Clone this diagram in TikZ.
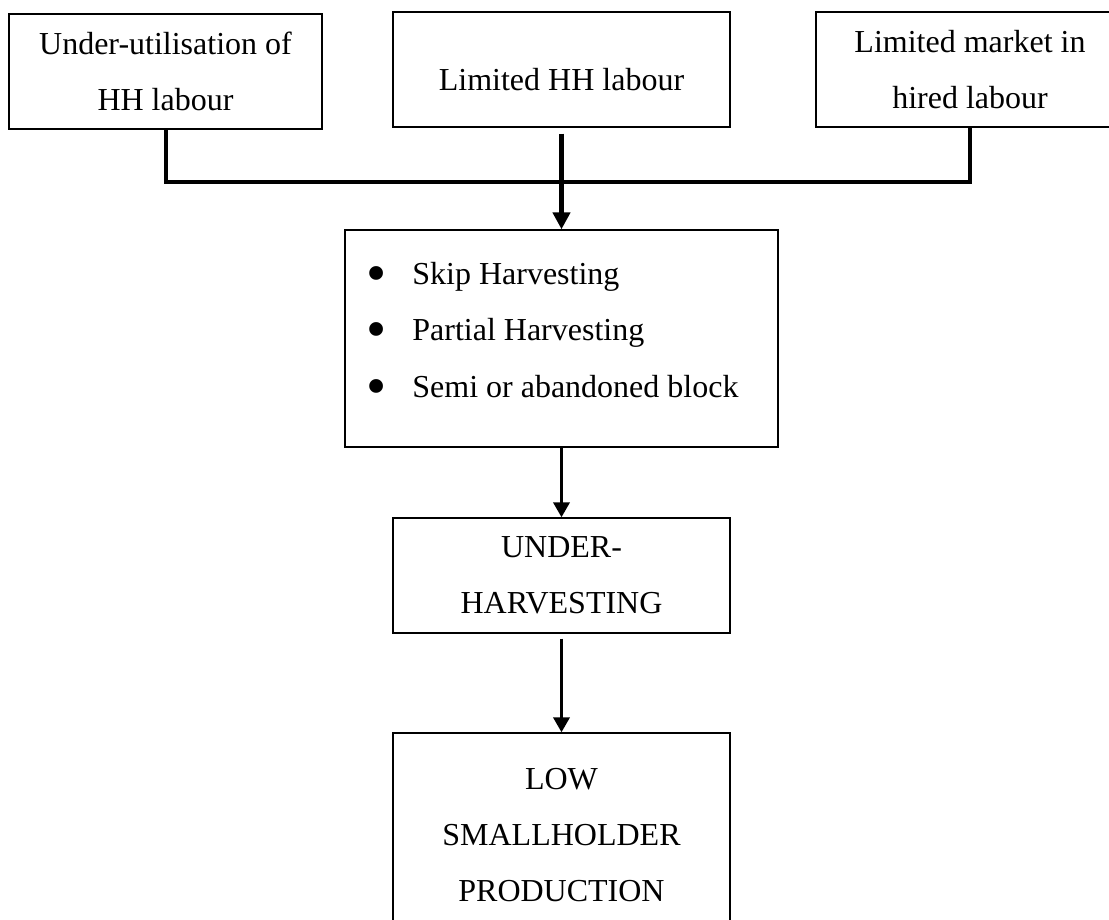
\documentclass[tikz,border=0pt]{standalone}
\usepackage{fontspec}
\setmainfont{Liberation Serif}
\usetikzlibrary{arrows.meta}
\newcommand{\itembullet}{\raisebox{-8pt}{\scalebox{1.8}{\textbullet}}}
\tikzset{
    box/.style={draw, line width=1.3pt, align=center, inner sep=0pt,
        font=\fontsize{32}{56}\selectfont},
    link/.style={line width=4pt, line cap=butt},
    bigarrow/.style={line width=5pt, -{Triangle[length=17pt,width=17pt]}},
    arrow/.style={line width=3.5pt, -{Triangle[length=15pt,width=16pt]}}
}
\begin{document}
\begin{tikzpicture}[x=1pt,y=-1pt]
        \useasboundingbox (0,0) rectangle (1109,920);
        % causes
        \node[box, minimum width=313pt, minimum height=115pt] (under) at (165.5,71.5) {Under-utilisation of\\HH labour};
        \node[box, minimum width=337pt, minimum height=115pt] (limited) at (561.5,69.5) {\raisebox{-21pt}[0pt][0pt]{Limited HH labour}};
        \node[box, minimum width=308pt, minimum height=115pt] (market) at (970,69.5) {Limited market in\\hired labour};
        % coping strategies
        \node[box, minimum width=433pt, minimum height=217pt] (coping) at (561.5,338.5) {};
        \node[anchor=base west, inner sep=0pt, font=\fontsize{32}{57}\selectfont] (items) at (366,284) {%
            \begin{tabular}[t]{@{}l@{\hspace{26pt}}l@{}}
            \itembullet & Skip Harvesting\\
            \itembullet & Partial Harvesting\\
            \itembullet & Semi or abandoned block
            \end{tabular}};
        % outcomes
        \node[box, minimum width=337pt, minimum height=115pt] (harvest) at (561.5,575.5) {UNDER-\\HARVESTING};
        \node[box, minimum width=337pt, minimum height=205pt] (output) at (561.5,835.5) {LOW\\SMALLHOLDER\\PRODUCTION};
        \coordinate (bar) at (561.5,182);
        \draw[link] (under.south) -- (under.south |- bar) -- (market.south |- bar) -- (market.south);
        \draw[bigarrow] ([yshift=-6pt]limited.south) -- (coping.north);
        \draw[arrow] (coping.south) -- (harvest.north);
        \draw[arrow] ([yshift=-5pt]harvest.south) -- (output.north);
    \end{tikzpicture}
\end{document}
